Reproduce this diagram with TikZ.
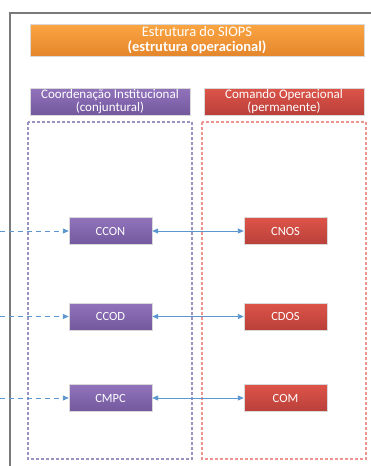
\documentclass[tikz,border=0pt]{standalone}
\usepackage{fontspec}
\setmainfont{Carlito}
\usetikzlibrary{arrows.meta}
\definecolor{framegray}{HTML}{7A7A7A}
\definecolor{orangetop}{HTML}{FBA542}
\definecolor{orangebot}{HTML}{E4862C}
\definecolor{purpletop}{HTML}{9173BC}
\definecolor{purplebot}{HTML}{73589D}
\definecolor{redtop}{HTML}{DD5449}
\definecolor{redbot}{HTML}{B9403A}
\definecolor{purpledash}{HTML}{9A93C2}
\definecolor{reddash}{HTML}{EE9590}
\definecolor{linkblue}{HTML}{5B96CF}
\tikzset{
  x=1pt, y=-1pt,
  boxbase/.style={draw=white!85!black, line width=0.4pt, text=white, align=center,
    inner sep=0pt},
  orangebox/.style={boxbase, top color=orangetop, bottom color=orangebot},
  purplebox/.style={boxbase, top color=purpletop, bottom color=purplebot},
  redbox/.style={boxbase, top color=redtop, bottom color=redbot},
  headerfont/.style={font=\fontsize{13}{13}\selectfont},
  unit/.style={minimum width=83pt, minimum height=27pt, font=\fontsize{12.5}{13}\selectfont},
  groupbox/.style={line width=1.2pt, dash pattern=on 3pt off 2pt},
  link/.style={linkblue, line width=0.9pt, {Triangle[length=6pt,width=5pt]}-{Triangle[length=6pt,width=5pt]}},
  feed/.style={linkblue, line width=0.9pt, dash pattern=on 5pt off 4pt, -{Triangle[length=6pt,width=5pt]}}
}
\begin{document}
\begin{tikzpicture}
\useasboundingbox (0,0) rectangle (371,466);
\fill[white] (0,0) rectangle (371,466);
% outer frame
\draw[framegray, line width=1.8pt] (10,466) -- (10,13) -- (371,13);
% title
\node[orangebox, minimum width=334pt, minimum height=32pt,
  font=\fontsize{14.5}{14.5}\selectfont] (title) at (197,40)
  {Estrutura do SIOPS\\\textbf{(estrutura operacional)}};
% column headers
\node[purplebox, headerfont, minimum width=160pt, minimum height=27pt] (hci) at (110,101.5)
  {Coordenação Institucional\\(conjuntural)};
\node[redbox, headerfont, minimum width=160pt, minimum height=27pt] (hco) at (284,101.5)
  {Comando Operacional\\(permanente)};
% grouping boxes
\draw[groupbox, purpledash] (28,122) rectangle (192,459);
\draw[groupbox, reddash] (202,122) rectangle (366,459);
% units
\node[purplebox, unit] (ccon) at (110.5,231) {CCON};
\node[redbox, unit] (cnos) at (285.5,231) {CNOS};
\node[purplebox, unit] (ccod) at (110.5,316.5) {CCOD};
\node[redbox, unit] (cdos) at (285.5,316.5) {CDOS};
\node[purplebox, unit] (cmpc) at (110.5,398) {CMPC};
\node[redbox, unit] (com) at (285.5,398) {COM};
% incoming links from the left edge
\coordinate (in1) at (0,231);
\coordinate (in2) at (0,316.5);
\coordinate (in3) at (0,398);
\draw[feed] (in1) -- (ccon.west);
\draw[feed] (in2) -- (ccod.west);
\draw[feed] (in3) -- (cmpc.west);
% links between columns
\draw[link] (ccon.east) -- (cnos.west);
\draw[link] (ccod.east) -- (cdos.west);
\draw[link] (cmpc.east) -- (com.west);
\end{tikzpicture}
\end{document}
